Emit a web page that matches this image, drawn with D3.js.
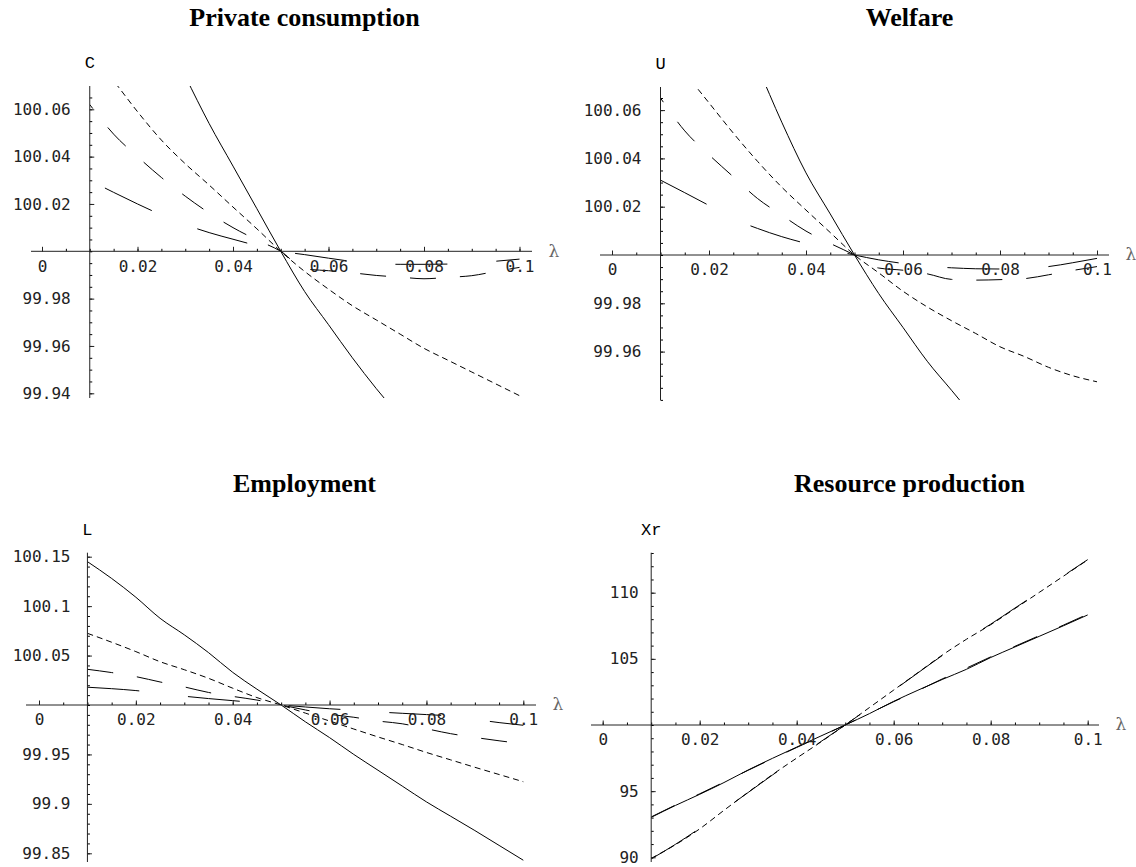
<!DOCTYPE html>
<html>
<head>
<meta charset="utf-8">
<script src="https://cdn.jsdelivr.net/npm/d3@7"></script>
<style>
  body { margin: 0; background: #fff; }
</style>
</head>
<body>
<svg id="chart" width="1136" height="867"></svg>
<script>
// lambda grid, shared by all four panels
var lambda = [0.01, 0.015, 0.02, 0.025, 0.03, 0.035, 0.04, 0.045, 0.05, 0.055,
              0.06, 0.065, 0.07, 0.075, 0.08, 0.085, 0.09, 0.095, 0.1];

// Private consumption (C)
var cSolid  = [100.165, 100.14, 100.117, 100.095, 100.074, 100.054, 100.036, 100.018, 100, 99.983,
               99.969, 99.955, 99.942, 99.930, 99.918, 99.907, 99.896, 99.886, 99.876];
var cShort  = [100.084, 100.072, 100.059, 100.047, 100.037, 100.028, 100.0187, 100.0095, 100, 99.9915,
               99.984, 99.977, 99.971, 99.965, 99.959, 99.954, 99.949, 99.944, 99.939];
var cMedium = [100.062, 100.0495, 100.040, 100.0312, 100.0233, 100.0162, 100.010, 100.0048, 100, 99.9926,
               99.9918, 99.9909, 99.9898, 99.9891, 99.9884, 99.9890, 99.9897, 99.9915, 99.9932];
var cLong   = [100.030, 100.0249, 100.0200, 100.0154, 100.0113, 100.0079, 100.0051, 100.0024, 100, 99.9986,
               99.9971, 99.9957, 99.9948, 99.9945, 99.9945, 99.9946, 99.9951, 99.9958, 99.9967];

// Welfare (U)
var uSolid  = [100.18, 100.15, 100.125, 100.10, 100.078, 100.055, 100.034, 100.017, 100, 99.984,
               99.970, 99.956, 99.944, 99.932, 99.921, 99.910, 99.900, 99.890, 99.880];
var uShort  = [100.088, 100.0755, 100.063, 100.0505, 100.0388, 100.0281, 100.0186, 100.0093, 100, 99.9926,
               99.9850, 99.9785, 99.9728, 99.9675, 99.9620, 99.9580, 99.9535, 99.9500, 99.9475];
var uMedium = [100.065, 100.0514, 100.0415, 100.0324, 100.0234, 100.0165, 100.0099, 100.0048, 100, 99.9946,
               99.9937, 99.9922, 99.9899, 99.9896, 99.9898, 99.9902, 99.9918, 99.9936, 99.9952];
var uLong   = [100.031, 100.0258, 100.0205, 100.0150, 100.0110, 100.0076, 100.0048, 100.0023, 100, 99.9980,
               99.9965, 99.9953, 99.9947, 99.9943, 99.9942, 99.9944, 99.9952, 99.9968, 99.9986];

// Employment (L)
var lSolid  = [100.145, 100.128, 100.109, 100.0877, 100.071, 100.053, 100.033, 100.016, 100, 99.983,
               99.967, 99.950, 99.934, 99.918, 99.902, 99.8875, 99.873, 99.858, 99.843];
var lShort  = [100.0725, 100.0635, 100.054, 100.0438, 100.0357, 100.027, 100.017, 100.0075, 100, 99.9918,
               99.9838, 99.9757, 99.9677, 99.960, 99.952, 99.9445, 99.937, 99.9297, 99.9224];
var lMedium = [100.0361, 100.0328, 100.0287, 100.0233, 100.0183, 100.0127, 100.0087, 100.0050, 100, 99.9950,
               99.9906, 99.9876, 99.9838, 99.9810, 99.9760, 99.9710, 99.9672, 99.9638, 99.9608];
var lLong   = [100.018, 100.0165, 100.0146, 100.0118, 100.0089, 100.0065, 100.0044, 100.0022, 100, 99.9980,
               99.9962, 99.9948, 99.9930, 99.9916, 99.9903, 99.9888, 99.9855, 99.9822, 99.9795];

// Resource production (Xr)
var xrSolid  = [93.02, 93.92, 94.76, 95.65, 96.60, 97.48, 98.33, 99.17, 100, 100.86,
                101.79, 102.63, 103.44, 104.21, 105.10, 105.90, 106.70, 107.50, 108.32];
var xrShort  = [89.92, 90.95, 92.15, 93.55, 94.92, 96.25, 97.50, 98.72, 100, 101.32,
                102.64, 103.96, 105.28, 106.48, 107.58, 108.80, 110.02, 111.25, 112.48];
var xrMedium = [93.05, 93.95, 94.80, 95.68, 96.58, 97.45, 98.30, 99.15, 100, 100.88,
                101.76, 102.60, 103.48, 104.30, 105.15, 105.95, 106.75, 107.55, 108.38];
var xrLong   = [89.88, 90.98, 92.20, 93.58, 94.90, 96.22, 97.48, 98.75, 100, 101.30,
                102.62, 103.94, 105.25, 106.50, 107.62, 108.84, 110.05, 111.28, 112.50];

// tick labels
var xTicks  = [0, 0.02, 0.04, 0.06, 0.08, 0.1];
var cTicks  = [99.94, 99.96, 99.98, 100.02, 100.04, 100.06];
var uTicks  = [99.96, 99.98, 100.02, 100.04, 100.06];
var lTicks  = [99.85, 99.9, 99.95, 100.05, 100.1, 100.15];
var xrTicks = [90, 95, 105, 110];

var dashes = { solid: null, short: "6,4", medium: "26,24", long: "52,49" };

var panels = [
  { title: "Private consumption", label: "C", titleX: 304.5, titleY: 26,
    xr: [42, 519.5], axisX: [31, 532], yd: [99.94, 100.06], yr: [393.3, 109.3], axisY: [86, 398],
    yTicks: cTicks, minor: 0.005, gap: 19,
    series: [[cSolid, "solid", 0], [cShort, "short", 0], [cMedium, "medium", 21], [cLong, "long", 84]] },
  { title: "Welfare", label: "U", titleX: 909.5, titleY: 26,
    xr: [612, 1097], axisX: [600, 1109], yd: [99.96, 100.06], yr: [351.6, 110.1], axisY: [87, 400],
    yTicks: uTicks, minor: 0.005, gap: 19,
    series: [[uSolid, "solid", 0], [uShort, "short", 0], [uMedium, "medium", 21], [uLong, "long", 0]] },
  { title: "Employment", label: "L", titleX: 304.5, titleY: 492,
    xr: [39, 523.3], axisX: [26, 536], yd: [99.85, 100.15], yr: [853.3, 556.7], axisY: [552.7, 862],
    yTicks: lTicks, minor: 0.01, gap: 17,
    series: [[lSolid, "solid", 0], [lShort, "short", 0], [lMedium, "medium", 0], [lLong, "long", 0]] },
  { title: "Resource production", label: "Xr", titleX: 909.5, titleY: 492,
    xr: [602.7, 1087.7], axisX: [591, 1099], yd: [90, 110], yr: [857.3, 592.7], axisY: [552.7, 862],
    yTicks: xrTicks, minor: 1, gap: 12.5,
    series: [[xrSolid, "solid", 0], [xrMedium, "medium", 0], [xrShort, "short", 0], [xrLong, "long", 0]] }
];

var svg = d3.select("#chart");
svg.append("rect").attr("width", 1136).attr("height", 867).attr("fill", "#fff");

function stepTicks(lo, hi, step) {
  var a = Math.ceil(lo / step - 1e-6), b = Math.floor(hi / step + 1e-6);
  return d3.range(a, b + 1).map(k => +(k * step).toFixed(6));
}

panels.forEach(function(p, i) {
  var x = d3.scaleLinear().domain([0, 0.1]).range(p.xr);
  var y = d3.scaleLinear().domain(p.yd).range(p.yr);
  var x0 = x(0.01), y0 = y(100);
  var g = svg.append("g");

  // title
  svg.append("text")
    .attr("x", p.titleX).attr("y", p.titleY)
    .attr("text-anchor", "middle")
    .attr("font-family", "Liberation Serif, Times New Roman, serif")
    .attr("font-weight", "bold").attr("font-size", 26)
    .text(p.title);

  // curves
  var clipId = "clip" + i;
  svg.append("clipPath").attr("id", clipId).append("rect")
    .attr("x", x0).attr("y", p.axisY[0])
    .attr("width", x(0.1) - x0 + 1).attr("height", p.axisY[1] - p.axisY[0]);

  var line = d3.line()
    .x((d, k) => x(lambda[k]))
    .y(d => y(d))
    .curve(d3.curveMonotoneX);

  g.append("g").attr("clip-path", "url(#" + clipId + ")")
    .selectAll("path")
    .data(p.series)
    .enter()
    .append("path")
    .attr("d", d => line(d[0]))
    .attr("fill", "none")
    .attr("stroke", "#000")
    .attr("stroke-width", 1)
    .attr("stroke-dasharray", d => dashes[d[1]])
    .attr("stroke-dashoffset", d => d[2]);

  // x axis
  var xMinor = stepTicks(0, 0.1, 0.005);
  g.append("g").attr("transform", "translate(0," + y0 + ")")
    .call(d3.axisBottom(x).tickValues(xMinor).tickSize(-2.5).tickFormat(""))
    .call(a => a.select(".domain").remove());
  g.append("g").attr("transform", "translate(0," + y0 + ")")
    .attr("color", "#222")
    .call(d3.axisBottom(x).tickValues(xTicks).tickSize(-4.5).tickPadding(9).tickFormat(String))
    .call(a => a.select(".domain").remove())
    .attr("font-family", "DejaVu Sans Mono, monospace")
    .attr("font-size", 16);
  g.append("line")
    .attr("x1", p.axisX[0]).attr("x2", p.axisX[1])
    .attr("y1", y0).attr("y2", y0)
    .attr("stroke", "#222");

  // y axis
  var yMinor = stepTicks(y.invert(p.axisY[1]), y.invert(p.axisY[0]), p.minor);
  g.append("g").attr("transform", "translate(" + x0 + ",0)")
    .call(d3.axisLeft(y).tickValues(yMinor).tickSize(-2.5).tickFormat(""))
    .call(a => a.select(".domain").remove());
  g.append("g").attr("transform", "translate(" + x0 + ",0)")
    .attr("color", "#222")
    .call(d3.axisLeft(y).tickValues(p.yTicks).tickSize(-4.5).tickPadding(p.gap).tickFormat(String))
    .call(a => a.select(".domain").remove())
    .attr("font-family", "DejaVu Sans Mono, monospace")
    .attr("font-size", 16);
  g.append("line")
    .attr("x1", x0).attr("x2", x0)
    .attr("y1", p.axisY[0]).attr("y2", p.axisY[1])
    .attr("stroke", "#222");

  // axis labels
  g.append("text")
    .attr("x", x0).attr("y", p.axisY[0] - 18)
    .attr("text-anchor", "middle")
    .attr("font-family", "Liberation Mono, Courier New, monospace")
    .attr("font-size", 17)
    .text(p.label);
  g.append("text")
    .attr("x", p.axisX[1] + 22).attr("y", y0)
    .attr("dy", "0.32em")
    .attr("text-anchor", "middle")
    .attr("font-family", "DejaVu Serif, serif")
    .attr("font-size", 17)
    .attr("fill", "#666")
    .text("λ");
});
</script>
</body>
</html>
